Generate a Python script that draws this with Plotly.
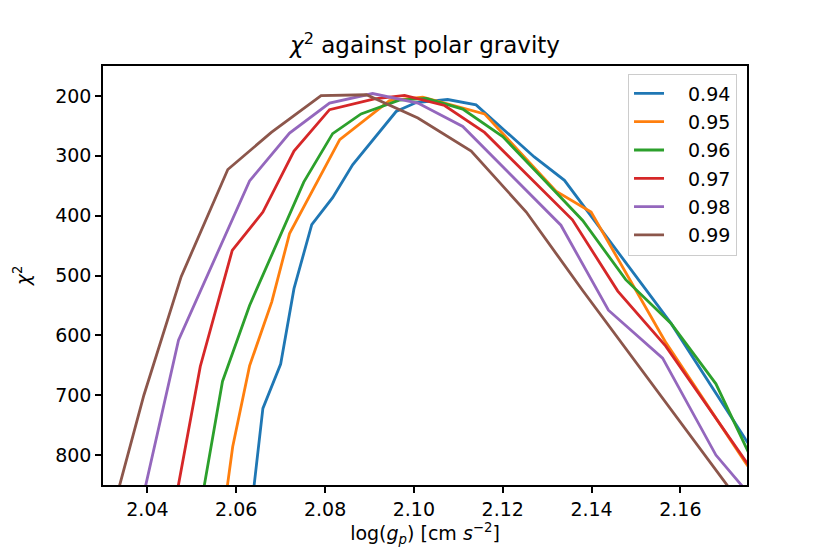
import plotly.graph_objects as go

# polar gravity (log g_p) and chi^2 per curve
labels = ["0.94", "0.95", "0.96", "0.97", "0.98", "0.99"]
colours = ["#1f77b4", "#ff7f0e", "#2ca02c", "#d62728", "#9467bd", "#8c564b"]

x_094 = [2.0625, 2.066, 2.070, 2.073, 2.077, 2.0817, 2.0862, 2.096, 2.1005,
         2.1076, 2.114, 2.1196, 2.1271, 2.1339, 2.1579, 2.1747, 2.178]
y_094 = [950, 722, 648, 522, 415, 370, 315, 226, 211,
         206, 215, 252, 302, 341, 580, 774, 810]

x_095 = [2.0562, 2.0592, 2.063, 2.068, 2.072, 2.0833, 2.0945, 2.102, 2.1159,
         2.132, 2.1399, 2.1568, 2.1747, 2.178]
y_095 = [950, 786, 651, 544, 430, 273, 208, 202, 230,
         359, 394, 613, 813, 848]

x_096 = [2.050, 2.0569, 2.063, 2.0752, 2.0817, 2.0881, 2.0967, 2.1028, 2.111,
         2.120, 2.128, 2.138, 2.1477, 2.1579, 2.168, 2.178]
y_096 = [970, 677, 550, 344, 263, 230, 207, 204, 222,
         268, 330, 408, 507, 580, 681, 837]

x_097 = [2.0445, 2.0519, 2.0591, 2.066, 2.073, 2.081, 2.0911, 2.0979, 2.1069,
         2.1159, 2.1357, 2.1459, 2.1567, 2.1747, 2.178]
y_097 = [950, 652, 458, 394, 292, 223, 205, 199, 216,
         261, 407, 526, 618, 810, 845]

x_098 = [2.0375, 2.047, 2.063, 2.072, 2.081, 2.0907, 2.1009, 2.111, 2.1331,
         2.1438, 2.156, 2.168, 2.176]
y_098 = [920, 608, 342, 262, 212, 196, 212, 251, 416,
         558, 638, 800, 870]

x_099 = [2.0305, 2.0392, 2.0476, 2.0581, 2.0679, 2.0791, 2.0893, 2.1009, 2.1129,
         2.1253, 2.138, 2.151, 2.164, 2.177]
y_099 = [940, 700, 502, 323, 261, 199.5, 198, 237, 292,
         394, 525, 655, 785, 915]

xs = [x_094, x_095, x_096, x_097, x_098, x_099]
ys = [y_094, y_095, y_096, y_097, y_098, y_099]

x_ticks = [2.04, 2.06, 2.08, 2.10, 2.12, 2.14, 2.16]
y_ticks = [200, 300, 400, 500, 600, 700, 800]

FONT = "DejaVu Sans"

fig = go.Figure()
for x, y, name, col in zip(xs, ys, labels, colours):
    # one legend group per curve so tracegroupgap spaces the entries out;
    # the em space widens the gap between the line sample and the label
    fig.add_trace(go.Scatter(x=x, y=y, name="\u2003" + name, mode="lines",
                             legendgroup=name,
                             line=dict(color=col, width=2.8)))

# the page body has an 8px margin, so the figure is shifted by that much
fig.update_layout(
    width=830, height=554,
    margin=dict(l=95, r=91, t=58, b=77),
    paper_bgcolor="white", plot_bgcolor="white",
    font=dict(family=FONT, size=19, color="black"),
    title=dict(text="<i>χ</i><sup>2</sup> against polar gravity",
               x=0.5024, xanchor="center", xref="container",
               y=0.933, yanchor="middle", yref="container",
               automargin=False, font=dict(size=23)),
    showlegend=True,
    legend=dict(x=0.9845, y=0.982, xanchor="right", yanchor="top",
                bgcolor="rgba(255,255,255,0.8)", bordercolor="#cccccc",
                borderwidth=1, font=dict(size=19), tracegroupgap=0.6,
                itemwidth=30),
    xaxis=dict(
        range=[2.030, 2.175],
        tickvals=x_ticks,
        ticktext=[f"{v:.2f}" for v in x_ticks],
        showgrid=False, zeroline=False, automargin=False,
        showline=True, mirror=True, linecolor="black", linewidth=1.5,
        ticks="outside", ticklen=6, tickwidth=1.5, tickcolor="black",
        title=dict(text="log(<i>g<sub>p</sub></i>) [cm <i>s</i><sup>−2</sup>]",
                   standoff=2, font=dict(size=19)),
    ),
    yaxis=dict(
        range=[850, 150],
        tickvals=y_ticks,
        showgrid=False, zeroline=False, automargin=False,
        showline=True, mirror=True, linecolor="black", linewidth=1.5,
        ticks="outside", ticklen=6, tickwidth=1.5, tickcolor="black",
        title=dict(text="<i>χ</i><sup>2</sup>", standoff=20,
                   font=dict(size=19)),
    ),
)

fig.write_html("out.html")
